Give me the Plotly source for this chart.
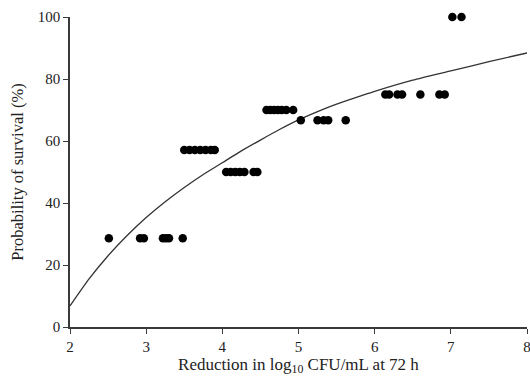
import plotly.graph_objects as go

# Observed points: reduction (log10 CFU/mL) vs probability of survival (%)
x_286 = [2.51, 2.92, 2.97, 3.22, 3.26, 3.30, 3.48]
y_286 = [28.6] * 7
x_571 = [3.50, 3.57, 3.64, 3.71, 3.78, 3.85, 3.90]
y_571 = [57.1] * 7
x_500 = [4.05, 4.11, 4.17, 4.23, 4.29, 4.41, 4.46]
y_500 = [50.0] * 7
x_700 = [4.58, 4.63, 4.68, 4.73, 4.78, 4.84, 4.93]
y_700 = [70.0] * 7
x_667 = [5.03, 5.25, 5.33, 5.39, 5.62]
y_667 = [66.7] * 5
x_750 = [6.14, 6.19, 6.30, 6.36, 6.60, 6.85, 6.92]
y_750 = [75.0] * 7
x_1000 = [7.02, 7.14]
y_1000 = [100.0] * 2

# Fitted curve
curve_x = [2.0, 2.25, 2.5, 2.75, 3.0, 3.25, 3.5, 3.75, 4.0, 4.25, 4.5, 4.75,
           5.0, 5.25, 5.5, 5.75, 6.0, 6.5, 7.0, 7.5, 8.0]
curve_y = [6.8, 15.5, 23.0, 29.5, 35.3, 40.4, 45.0, 49.2, 53.0, 56.8, 60.3, 63.7,
           66.8, 69.5, 71.9, 74.0, 76.0, 79.6, 82.6, 85.6, 88.4]

x_ticks = [2, 3, 4, 5, 6, 7, 8]
y_ticks = [0, 20, 40, 60, 80, 100]

pts_x = x_286 + x_571 + x_500 + x_700 + x_667 + x_750 + x_1000
pts_y = y_286 + y_571 + y_500 + y_700 + y_667 + y_750 + y_1000

font_family = "Liberation Serif, Times New Roman, serif"
txt = "#222222"
axc = "#3a3a3a"

fig = go.Figure()
fig.add_trace(go.Scatter(
    x=curve_x, y=curve_y, mode="lines",
    line=dict(color="#333333", width=1.3, shape="spline", smoothing=0.6),
    showlegend=False, hoverinfo="skip", cliponaxis=False,
))
fig.add_trace(go.Scatter(
    x=pts_x, y=pts_y, mode="markers",
    marker=dict(color="black", size=8.5, line=dict(width=0)),
    showlegend=False, cliponaxis=False,
))

axis_common = dict(
    showgrid=False, zeroline=False, showline=True,
    linecolor=axc, linewidth=1.6,
    ticks="outside", ticklen=5, tickwidth=1.4, tickcolor=axc,
    tickfont=dict(family=font_family, size=15, color=txt),
    ticklabeloverflow="allow",
)

fig.update_layout(
    width=530, height=377,
    margin=dict(l=70, r=3, t=17, b=50),
    paper_bgcolor="white", plot_bgcolor="white",
    font=dict(family=font_family, color=txt),
    xaxis=dict(
        range=[2, 8], tickvals=x_ticks, ticktext=[str(v) for v in x_ticks],
        automargin=False,
        title=dict(text="Reduction in log<sub>10</sub> CFU/mL at 72 h",
                   font=dict(family=font_family, size=17, color=txt), standoff=4),
        **axis_common,
    ),
    yaxis=dict(
        range=[0, 100], tickvals=y_ticks, ticktext=[str(v) for v in y_ticks],
        automargin=False,
        title=dict(text="Probability of survival (%)",
                   font=dict(family=font_family, size=16.5, color=txt), standoff=10),
        **axis_common,
    ),
)

fig.write_html("out.html", config={"displayModeBar": False},
               post_script="document.body.style.margin='0px';")
